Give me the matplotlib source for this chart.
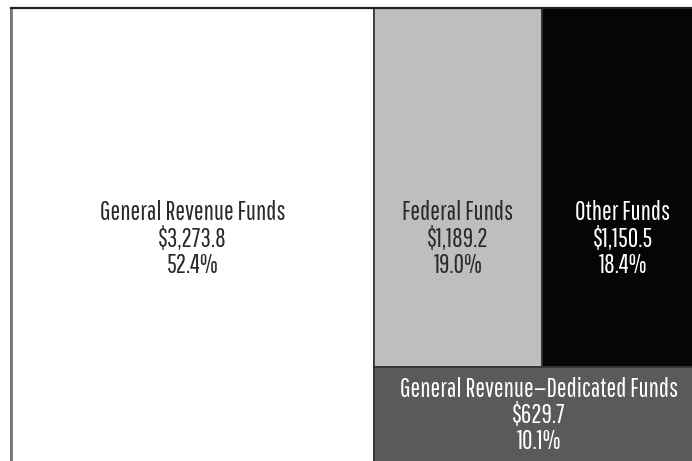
import matplotlib
matplotlib.use("Agg")
import matplotlib.pyplot as plt
from matplotlib.patches import Rectangle

categories = ["General Revenue Funds", "Federal Funds", "Other Funds",
              "General Revenue\u2014Dedicated Funds"]
amounts = [3273.8, 1189.2, 1150.5, 629.7]
percents = [52.4, 19.0, 18.4, 10.1]

face_colors = ["#ffffff", "#bebebe", "#050505", "#5a5a5a"]
text_colors = ["#2a2a2a", "#2a2a2a", "#ffffff", "#ffffff"]

FONT = ["Pathway Gothic One", "DejaVu Sans"]

W, H = 692, 461
fig = plt.figure(figsize=(W / 100, H / 100), dpi=100)
ax_left, ax_top, ax_w, ax_h = 11, 8, 692.7, 455.6
ax = fig.add_axes([ax_left / W, (H - ax_top - ax_h) / H, ax_w / W, ax_h / H])
ax.set_xlim(0, 1)
ax.set_ylim(0, 1)
ax.axis("off")

total = sum(amounts)
gr, fed, oth, grd = amounts
x_split = gr / total
rest = total - gr
top_h = (fed + oth) / rest
fed_w = (1 - x_split) * fed / (fed + oth)

rects = [
    (0, 0, x_split, 1),
    (x_split, 1 - top_h, fed_w, top_h),
    (x_split + fed_w, 1 - top_h, 1 - x_split - fed_w, top_h),
    (x_split, 0, 1 - x_split, 1 - top_h),
]

for (x, y, w, h), fc in zip(rects, face_colors):
    ax.add_patch(Rectangle((x, y), w, h, facecolor=fc, edgecolor="#333333",
                           linewidth=1.2, clip_on=False))
ax.plot([0, 0], [0, 1], color="#777777", lw=2, clip_on=False)
ax.plot([0, 1], [1, 1], color="#222222", lw=1.6, clip_on=False)

for i, ((x, y, w, h), cat, amt, pct, tc) in enumerate(
        zip(rects, categories, amounts, percents, text_colors)):
    label = f"{cat}\n${amt:,.1f}\n{pct:.1f}%"
    cx = x + w / 2
    if i in (0, 1, 2):
        cy = 0.493
    else:
        cy = y + h / 2
    ax.text(cx, cy, label, ha="center", va="center", color=tc, fontsize=18.5,
            family=FONT, linespacing=1.06)

fig.savefig("out.png", dpi=100)
